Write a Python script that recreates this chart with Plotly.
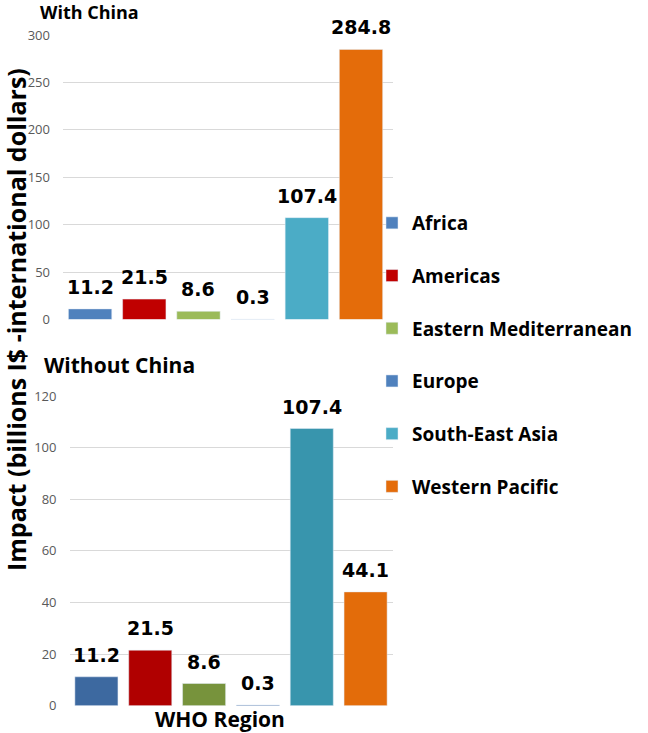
import plotly.graph_objects as go

regions = ["Africa", "Americas", "Eastern Mediterranean", "Europe", "South-East Asia", "Western Pacific"]
with_china = [11.2, 21.5, 8.6, 0.3, 107.4, 284.8]
without_china = [11.2, 21.5, 8.6, 0.3, 107.4, 44.1]
colors_top = ["#4f81bd", "#c00000", "#9bbb59", "#4f81bd", "#4bacc6", "#e46c0a"]
colors_bottom = ["#3d69a0", "#b00000", "#77933c", "#3d69a0", "#3895ad", "#e36c0a"]
top_ticks = [0, 50, 100, 150, 200, 250, 300]
bottom_ticks = [0, 20, 40, 60, 80, 100, 120]

W, H = 648, 733
def px_y(p):
    return 1 - p / H
def px_x(p):
    return p / W

fig = go.Figure()
for i, r in enumerate(regions):
    fig.add_trace(go.Bar(x=[r], y=[with_china[i]], name=r, marker_color=colors_top[i],
                         xaxis="x", yaxis="y", legendgroup=r, showlegend=True))
for i, r in enumerate(regions):
    fig.add_trace(go.Bar(x=[r], y=[without_china[i]], name=r, marker_color=colors_bottom[i],
                         xaxis="x2", yaxis="y2", legendgroup=r, showlegend=False))

annotations = []
for i, r in enumerate(regions):
    annotations.append(dict(x=r, y=with_china[i], xref="x", yref="y", text=f"{with_china[i]}",
                            showarrow=False, yanchor="bottom", yshift=9,
                            font=dict(family="DejaVu Sans", size=19, color="black", weight="bold")))
    annotations.append(dict(x=r, y=without_china[i], xref="x2", yref="y2", text=f"{without_china[i]}",
                            showarrow=False, yanchor="bottom", yshift=9,
                            font=dict(family="DejaVu Sans", size=19, color="black", weight="bold")))

annotations += [
    dict(text="<b>With China</b>", x=px_x(38), y=px_y(-2), xref="paper", yref="paper",
         xanchor="left", yanchor="top", showarrow=False,
         font=dict(family="Open Sans", size=18, color="black")),
    dict(text="<b>Without China</b>", x=px_x(42), y=px_y(349), xref="paper", yref="paper",
         xanchor="left", yanchor="top", showarrow=False,
         font=dict(family="Open Sans", size=21, color="black")),
    dict(text="<b>Impact (billions I$ -international dollars)</b>", x=px_x(16), y=px_y(320),
         xref="paper", yref="paper", xanchor="center", yanchor="middle", textangle=-90,
         showarrow=False, font=dict(family="Open Sans", size=25, color="black")),
    dict(text="<b>WHO Region</b>", x=px_x(220), y=px_y(719), xref="paper", yref="paper",
         xanchor="center", yanchor="middle", showarrow=False,
         font=dict(family="Open Sans", size=21, color="black")),
]

axis_common = dict(showgrid=True, gridcolor="#d9d9d9", gridwidth=1, zeroline=False, automargin=False,
                   showline=False, ticks="", tickfont=dict(family="Open Sans", size=13, color="#595959"),
                   ticklabelstandoff=12)

fig.update_layout(
    width=W, height=H, margin=dict(l=0, r=0, t=0, b=0, pad=0),
    paper_bgcolor="white", plot_bgcolor="white",
    barmode="relative", bargap=0.2,
    xaxis=dict(domain=[px_x(63), px_x(393)], anchor="y", showticklabels=False, showgrid=False,
               zeroline=False, automargin=False, categoryorder="array", categoryarray=regions),
    yaxis=dict(domain=[px_y(319.5), px_y(35)], anchor="x", range=[0, 300], tickvals=top_ticks, **axis_common),
    xaxis2=dict(domain=[px_x(69.5), px_x(392.5)], anchor="y2", showticklabels=False, showgrid=False,
                zeroline=False, automargin=False, categoryorder="array", categoryarray=regions),
    yaxis2=dict(domain=[px_y(705.7), px_y(396)], anchor="x2", range=[0, 120], tickvals=bottom_ticks, **axis_common),
    legend=dict(x=px_x(372), y=px_y(204), xanchor="left", yanchor="top", tracegroupgap=25,
                font=dict(family="Open Sans", size=19, color="black", weight="bold"),
                bgcolor="rgba(0,0,0,0)"),
    annotations=annotations,
    showlegend=True,
)

fig.write_html("out.html", config={"displayModeBar": False},
               post_script="document.body.style.margin='0';document.body.style.padding='0';")
